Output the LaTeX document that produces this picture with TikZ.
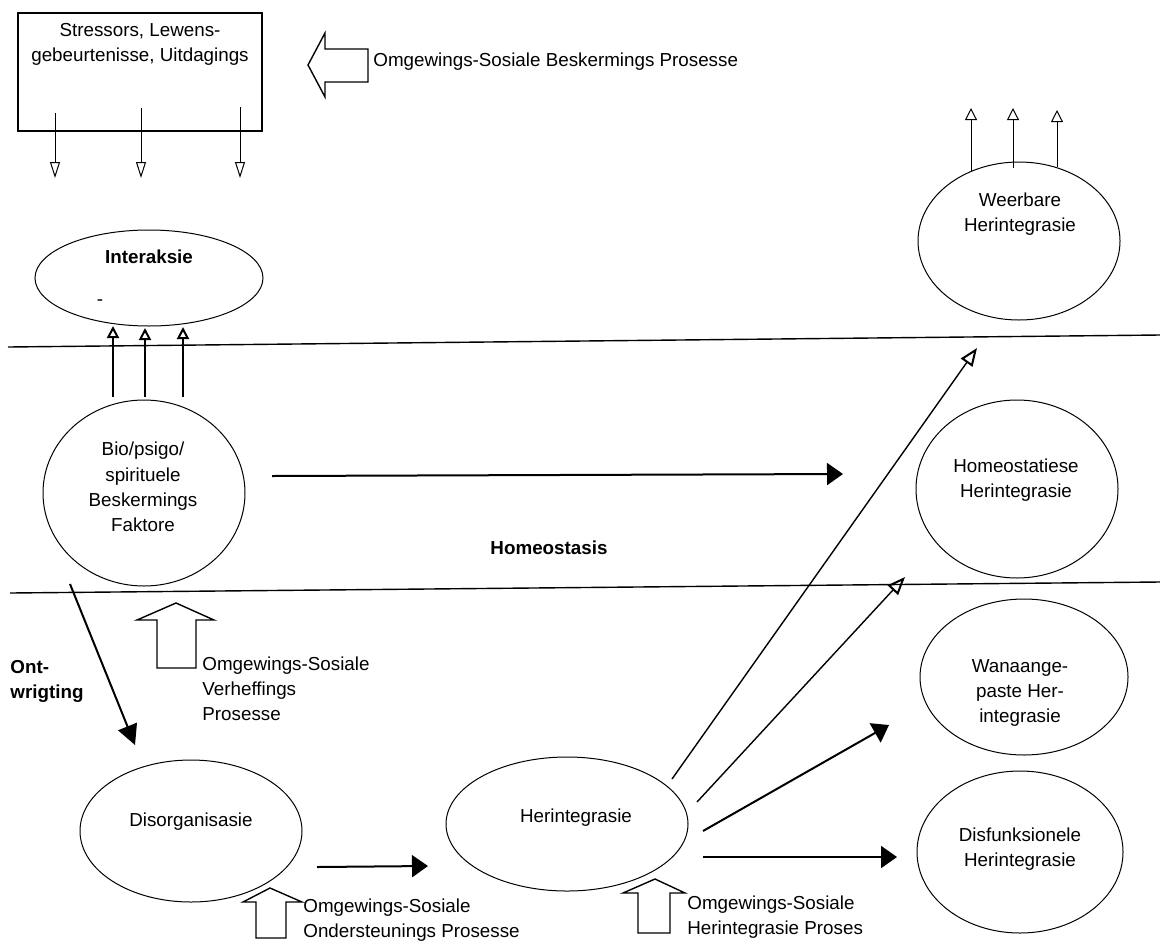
\documentclass[tikz,border=0pt]{standalone}
\usepackage{fontspec}
\setmainfont{Liberation Sans}
\usetikzlibrary{arrows.meta,shapes.geometric}

\tikzset{
  teks/.style={font=\fontsize{9.4}{12.6}\selectfont, align=center, inner sep=0pt},
  vet/.style={teks, font=\fontsize{9.4}{12.6}\selectfont\bfseries},
  ovaal/.style={draw, ellipse, line width=0.5pt, inner sep=0pt},
  kas/.style={draw, rectangle, line width=0.65pt, inner sep=0pt},
  skeiding/.style={line width=0.7pt},
  blok/.style={line width=0.7pt, line join=miter},
  oopkop/.style={-{Triangle[open, length=8pt, width=5pt]}, line width=0.5pt},
  swaarkop/.style={-{Triangle[open, length=6pt, width=6pt, line width=1pt]}, line width=0.7pt},
  volkop/.style={-{Triangle[length=8pt, width=11pt]}, line width=1pt}
}

\begin{document}
\begin{tikzpicture}[x=0.5pt,y=-0.5pt]
    \useasboundingbox (0,0) rectangle (1160,942);

    % stressors
    \node[kas, minimum width=122pt, minimum height=59pt] (stres) at (140,72) {};
    \node[teks, anchor=north] (stresT) at (140,23) {Stressors, Lewens-\\gebeurtenisse, Uitdagings};
    \foreach \x/\y [count=\i] in {55/113,141/108,240/107}{
        \coordinate (af\i) at (\x,\y);
        \coordinate (afk\i) at (\x,178);
        \draw[oopkop] (af\i) -- (afk\i);
    }
    \draw[blok] (308,65) -- ++(17,-32) -- ++(0,16) -- ++(43,0) -- ++(0,33) -- ++(-43,0) -- ++(0,15) -- cycle;
    \node[teks, anchor=west] (beskT) at (373,62) {Omgewings-Sosiale Beskermings Prosesse};

    % ovale
    \node[ovaal, minimum width=114pt, minimum height=48pt] (inter) at (149,278) {};
    \node[vet] (interT) at (149,257) {Interaksie};
    \node[teks] (streep) at (100,303) {-};
    \node[ovaal, minimum width=101pt, minimum height=93pt] (bio) at (144,493) {};
    \node[teks] (bioT) at (143,487) {Bio/psigo/\\spirituele\\Beskermings\\Faktore};
    \node[ovaal, minimum width=101pt, minimum height=79pt] (weer) at (1019,241) {};
    \node[teks] (weerT) at (1020,214) {Weerbare\\Herintegrasie};
    \node[ovaal, minimum width=101pt, minimum height=89pt] (homeo) at (1017,489) {};
    \node[teks] (homeoT) at (1016,480) {Homeostatiese\\Herintegrasie};
    \node[ovaal, minimum width=104pt, minimum height=78pt] (wana) at (1024,677) {};
    \node[teks] (wanaT) at (1020,693) {Wanaange-\\paste Her-\\integrasie};
    \node[ovaal, minimum width=103pt, minimum height=81pt] (disf) at (1020,852) {};
    \node[teks] (disfT) at (1020,849) {Disfunksionele\\Herintegrasie};
    \node[ovaal, minimum width=111pt, minimum height=71pt] (disorg) at (191,831) {};
    \node[teks] (disorgT) at (191,822) {Disorganisasie};
    \node[ovaal, minimum width=121pt, minimum height=67pt] (herint) at (567,824) {};
    \node[teks] (herintT) at (576,818) {Herintegrasie};

    % skeidings
    \draw[skeiding] (8,347) -- (1160,335);
    \draw[skeiding] (10,593) -- (1160,582);
    \node[vet] (homeostasis) at (549,548) {Homeostasis};

    % pyle
    \foreach \x/\y/\t [count=\i] in {113/397/326,145/397/328,183/397/327}{
        \coordinate (op\i) at (\x,\y);
        \coordinate (opk\i) at (\x,\t);
        \draw[swaarkop] (op\i) -- (opk\i);
    }
    \foreach \x/\y/\t [count=\i] in {971/171/108,1013/168/108,1057/167/110}{
        \coordinate (wp\i) at (\x,\y);
        \coordinate (wpk\i) at (\x,\t);
        \draw[oopkop, -{Triangle[open, length=6pt, width=6pt]}] (wp\i) -- (wpk\i);
    }
    \coordinate (bioUit) at (272,476);
    \coordinate (homeoIn) at (843,474);
    \draw[volkop] (bioUit) -- (homeoIn);
    \coordinate (ontUit) at (70,584);
    \coordinate (ontIn) at (135,745);
    \draw[volkop, -{Triangle[length=10pt, width=10pt]}] (ontUit) -- (ontIn);
    \node[vet, align=left, anchor=north west] (ontT) at (10,660) {Ont-\\wrigting};
    \coordinate (disUit) at (317,867);
    \coordinate (herIn) at (428,866);
    \draw[volkop] (disUit) -- (herIn);
    \coordinate (h1) at (672,779);
    \coordinate (h1k) at (977,348);
    \coordinate (h2) at (697,802);
    \coordinate (h2k) at (905,577);
    \coordinate (h3) at (703,831);
    \coordinate (h3k) at (889,725);
    \coordinate (h4) at (703,857);
    \coordinate (h4k) at (897,857);
    \draw[swaarkop, -{Triangle[open, length=9pt, width=7pt, line width=1pt]}] (h1) -- (h1k);
    \draw[swaarkop, -{Triangle[open, length=9pt, width=7pt, line width=1pt]}] (h2) -- (h2k);
    \draw[volkop] (h3) -- (h3k);
    \draw[volkop] (h4) -- (h4k);

    % omgewings-sosiale blokpyle
    \draw[blok] (176,603) -- ++(38,17) -- ++(-18,0) -- ++(0,48) -- ++(-39,0) -- ++(0,-48) -- ++(-20,0) -- cycle;
    \node[teks, align=left, anchor=north west] (verhT) at (202,656) {Omgewings-Sosiale\\Verheffings\\Prosesse};
    \draw[blok] (270,888) -- ++(32,14) -- ++(-16,0) -- ++(0,36) -- ++(-30,0) -- ++(0,-36) -- ++(-13,0) -- cycle;
    \node[teks, align=left, anchor=north west] (ondT) at (303,898) {Omgewings-Sosiale\\Ondersteunings Prosesse};
    \draw[blok] (655,879) -- ++(30,14) -- ++(-15,0) -- ++(0,40) -- ++(-32,0) -- ++(0,-40) -- ++(-15,0) -- cycle;
    \node[teks, align=left, anchor=north west] (herpT) at (687,895) {Omgewings-Sosiale\\Herintegrasie Proses};

\end{tikzpicture}
\end{document}
